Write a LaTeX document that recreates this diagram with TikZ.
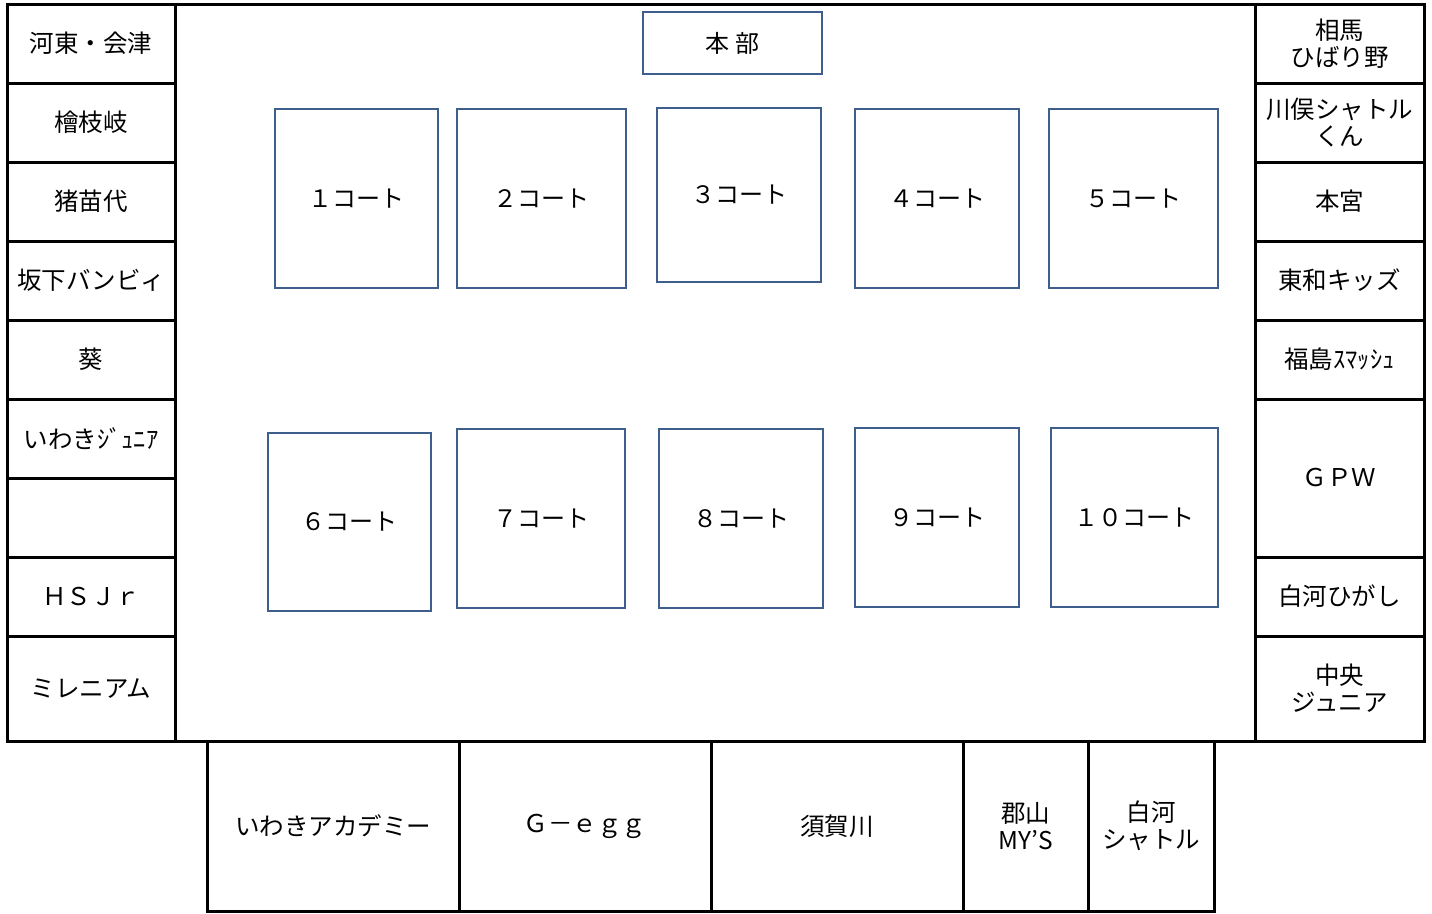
\documentclass[tikz,border=0pt]{standalone}
\usepackage{fontspec}
\newfontfamily\cjk{Noto Sans CJK JP}
\definecolor{courtblue}{RGB}{62,95,140}
\tikzset{
  cell/.style={draw=black, line width=3pt, fill=white, inner sep=0pt, align=center,
    font=\cjk\fontsize{24.5}{27}\selectfont},
  court/.style={draw=courtblue, line width=2.8pt, fill=white, inner sep=0pt, align=center,
    font=\cjk\fontsize{24}{27}\selectfont},
}
\begin{document}
\begin{tikzpicture}[x=1pt,y=-1pt]
\useasboundingbox (0,0) rectangle (1432,913);
% hall
\node[cell, minimum width=1080, minimum height=737] (hall) at (715,372.5) {};
% left column
\node[cell, minimum width=168, minimum height=79] (l1) at (91,43.5) {河東・会津};
\node[cell, minimum width=168, minimum height=79] (l2) at (91,122.5) {檜枝岐};
\node[cell, minimum width=168, minimum height=79] (l3) at (91,201.5) {猪苗代};
\node[cell, minimum width=168, minimum height=79] (l4) at (91,280.5) {坂下バンビィ};
\node[cell, minimum width=168, minimum height=79] (l5) at (91,359.5) {葵};
\node[cell, minimum width=168, minimum height=79] (l6) at (91,438.5) {いわきｼﾞｭﾆｱ};
\node[cell, minimum width=168, minimum height=79] (l7) at (91,517.5) {};
\node[cell, minimum width=168, minimum height=79] (l8) at (91,596.5) {ＨＳＪｒ};
\node[cell, minimum width=168, minimum height=105] (l9) at (91,688.5) {ミレニアム};
% right column
\node[cell, minimum width=169, minimum height=79] (r1) at (1339.5,43.5) {相馬\\ひばり野};
\node[cell, minimum width=169, minimum height=79] (r2) at (1339.5,122.5) {川俣シャトル\\くん};
\node[cell, minimum width=169, minimum height=79] (r3) at (1339.5,201.5) {本宮};
\node[cell, minimum width=169, minimum height=79] (r4) at (1339.5,280.5) {東和キッズ};
\node[cell, minimum width=169, minimum height=79] (r5) at (1339.5,359.5) {福島ｽﾏｯｼｭ};
\node[cell, minimum width=169, minimum height=158] (r6) at (1339.5,478) {ＧＰＷ};
\node[cell, minimum width=169, minimum height=79] (r7) at (1339.5,596.5) {白河ひがし};
\node[cell, minimum width=169, minimum height=105] (r8) at (1339.5,688.5) {中央\\ジュニア};
% bottom row
\node[cell, minimum width=252, minimum height=170] (b1) at (333,826) {いわきアカデミー};
\node[cell, minimum width=252, minimum height=170] (b2) at (585,826) {Ｇ－ｅｇｇ};
\node[cell, minimum width=252, minimum height=170] (b3) at (837,826) {須賀川};
\node[cell, minimum width=125, minimum height=170] (b4) at (1025.5,826) {郡山\\MY’S};
\node[cell, minimum width=126, minimum height=170] (b5) at (1151,826) {白河\\シャトル};
% headquarters
\node[court, minimum width=179, minimum height=62] (hq) at (732.5,43) {本 部};
% courts
\node[court, minimum width=163, minimum height=179] (c1) at (356.5,198.5) {１コート};
\node[court, minimum width=169, minimum height=179] (c2) at (541.5,198.5) {２コート};
\node[court, minimum width=164, minimum height=174] (c3) at (739,195) {３コート};
\node[court, minimum width=164, minimum height=179] (c4) at (937,198.5) {４コート};
\node[court, minimum width=169, minimum height=179] (c5) at (1133.5,198.5) {５コート};
\node[court, minimum width=163, minimum height=178] (c6) at (349.5,522) {６コート};
\node[court, minimum width=168, minimum height=179] (c7) at (541,518.5) {７コート};
\node[court, minimum width=164, minimum height=179] (c8) at (741,518.5) {８コート};
\node[court, minimum width=164, minimum height=179] (c9) at (937,517.5) {９コート};
\node[court, minimum width=167, minimum height=179] (c10) at (1134.5,517.5) {１０コート};
\end{tikzpicture}
\end{document}
